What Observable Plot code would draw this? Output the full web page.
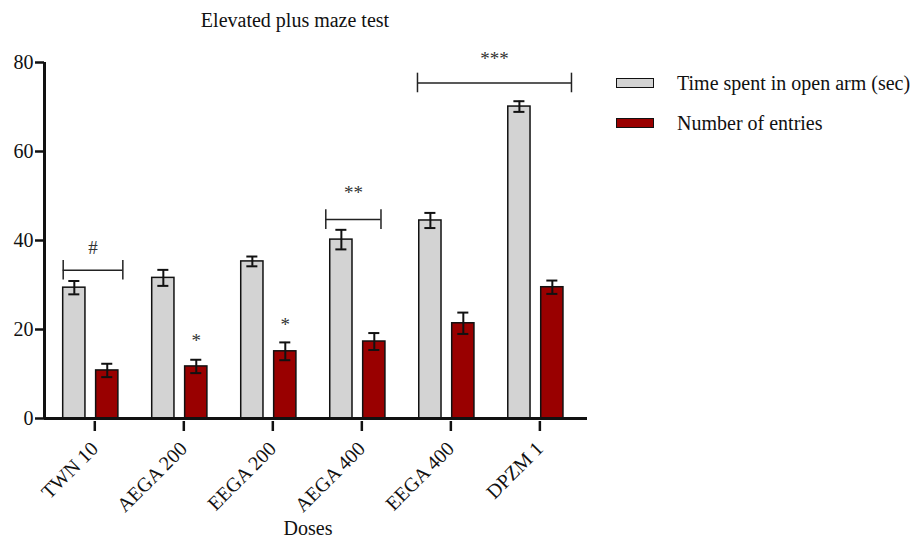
<!DOCTYPE html>
<html>
<head>
<meta charset="utf-8">
<script src="https://cdn.jsdelivr.net/npm/d3@7"></script>
<script src="https://cdn.jsdelivr.net/npm/@observablehq/plot@0.6"></script>
<style>
  html, body { margin: 0; padding: 0; background: #fff; }
  #wrap { position: relative; width: 919px; height: 539px; overflow: hidden; font-family: "Liberation Serif", "Times New Roman", serif; color: #111; }
  #title { position: absolute; left: 0; width: 590px; text-align: center; top: 8px; font-size: 20px; line-height: 24px; }
  #xlabel { position: absolute; left: 258px; width: 100px; text-align: center; top: 519px; font-size: 20px; line-height: 18px; }
  .leg { position: absolute; left: 616px; display: flex; align-items: center; font-size: 20px; line-height: 24px; }
  .sw { width: 36px; height: 8px; border: 1.5px solid #111; margin-right: 23px; box-sizing: content-box; }
</style>
</head>
<body>
<div id="wrap">
  <div id="chart"></div>
  <div id="title">Elevated plus maze test</div>
  <div id="xlabel">Doses</div>
  <div id="legend"></div>
</div>
<script>
// ---- data ----
const doses = ["TWN 10", "AEGA 200", "EEGA 200", "AEGA 400", "EEGA 400", "DPZM 1"];
const seriesNames = ["Time spent in open arm (sec)", "Number of entries"];
const seriesColors = ["#d3d3d3", "#990000"];
const timeOpenArm = [29.4, 31.6, 35.3, 40.2, 44.5, 70.1];
const timeSem = [1.5, 1.8, 1.1, 2.2, 1.7, 1.2];
const entries = [10.8, 11.7, 15.1, 17.3, 21.4, 29.5];
const entriesSem = [1.5, 1.5, 2.0, 1.9, 2.4, 1.5];
const yTicks = [0, 20, 40, 60, 80];
// significance brackets: from/to in dose-index units, level in y units
const bracketLabels = ["#", "**", "***"];
const bracketFrom = [-0.31, 2.64, 3.67];
const bracketTo = [0.36, 3.26, 5.40];
const bracketLevel = [33.3, 44.7, 75.4];
const bracketTextLevel = [38.4, 50.6, 80.8];
// single-bar stars (on Number of entries bars)
const starLabels = ["*", "*"];
const starDose = [1, 2];
const starLevel = [17.4, 21.0];

// ---- build rows ----
const offsets = [[-0.31, -0.06], [0.06, 0.31]];
const rows = [];
doses.forEach((d, i) => {
  [timeOpenArm, entries].forEach((vals, s) => {
    const sem = s === 0 ? timeSem[i] : entriesSem[i];
    rows.push({dose: d, i, s, x1: i + offsets[s][0], x2: i + offsets[s][1],
      xc: i + (offsets[s][0] + offsets[s][1]) / 2, v: vals[i], lo: vals[i] - sem, hi: vals[i] + sem});
  });
});
const brackets = bracketLabels.map((l, k) => ({l, a: bracketFrom[k], b: bracketTo[k], y: bracketLevel[k], ty: bracketTextLevel[k]}));
const stars = starLabels.map((l, k) => ({l, x: starDose[k] + (offsets[1][0] + offsets[1][1]) / 2, y: starLevel[k]}));
const capW = 0.062;
const xMin = -0.52, xMax = 5.58;

const plot = Plot.plot({
  width: 919,
  height: 539,
  marginLeft: 44,
  marginRight: 332,
  marginTop: 62,
  marginBottom: 121,
  style: {fontFamily: "Liberation Serif, Times New Roman, serif", fontSize: "20px", color: "#111", background: "transparent"},
  x: {domain: [xMin, xMax], axis: null},
  y: {domain: [0, 80], axis: null},
  marks: [
    Plot.rectY(rows, {x1: "x1", x2: "x2", y1: 0, y2: "v", fill: d => seriesColors[d.s], stroke: "#111", strokeWidth: 1.5}),
    Plot.ruleX(rows, {x: "xc", y1: "lo", y2: "hi", stroke: "#111", strokeWidth: 2}),
    Plot.ruleY(rows, {y: "hi", x1: d => d.xc - capW, x2: d => d.xc + capW, stroke: "#111", strokeWidth: 2}),
    Plot.ruleY(rows, {y: "lo", x1: d => d.xc - capW, x2: d => d.xc + capW, stroke: "#111", strokeWidth: 2}),
    // axes
    Plot.axisY({ticks: yTicks, tickSize: 9, tickPadding: 2, strokeWidth: 2.5, fontSize: 20, label: null}),
    Plot.axisX({ticks: doses.map((d, i) => i), tickFormat: i => doses[i], tickSize: 10, tickPadding: 14,
      tickRotate: -45, strokeWidth: 2.5, fontSize: 20, label: null, dx: 4, dy: 3}),
    Plot.ruleX([xMin], {y1: 0, y2: 80, stroke: "#111", strokeWidth: 3}),
    Plot.ruleY([0], {x1: xMin, x2: xMax, stroke: "#111", strokeWidth: 3}),
    // brackets
    Plot.ruleY(brackets, {y: "y", x1: "a", x2: "b", stroke: "#222", strokeWidth: 1.5}),
    Plot.ruleX(brackets, {x: "a", y1: d => d.y - 2.2, y2: d => d.y + 2.2, stroke: "#222", strokeWidth: 1.5}),
    Plot.ruleX(brackets, {x: "b", y1: d => d.y - 2.2, y2: d => d.y + 2.2, stroke: "#222", strokeWidth: 1.5}),
    Plot.text(brackets, {x: d => (d.a + d.b) / 2, y: "ty", text: "l", fontSize: 19, fill: "#333"}),
    Plot.text(stars, {x: "x", y: "y", text: "l", fontSize: 19, fill: "#333"})
  ]
});
document.getElementById("chart").appendChild(plot);

// legend
const leg = document.getElementById("legend");
const legTops = [71, 111];
seriesNames.forEach((n, k) => {
  const div = document.createElement("div");
  div.className = "leg";
  div.style.top = legTops[k] + "px";
  div.innerHTML = `<span class="sw" style="background:${seriesColors[k]}"></span><span>${n}</span>`;
  leg.appendChild(div);
});
</script>
</body>
</html>
